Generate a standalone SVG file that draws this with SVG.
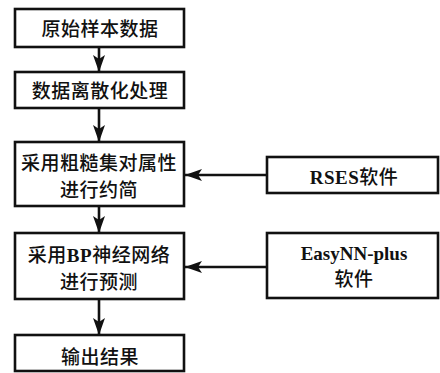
<svg xmlns="http://www.w3.org/2000/svg" width="440" height="373" viewBox="0 0 440 373">
<style>
.box{fill:#fff;stroke:#111;stroke-width:2.6}
.t{font-family:"Noto Sans CJK SC","Noto Sans",sans-serif;font-size:19px;font-weight:500;fill:#111;text-anchor:middle;letter-spacing:0.5px}
.l{font-family:"Liberation Serif","Noto Sans CJK SC",serif;font-weight:bold}
.c{stroke:#111;stroke-width:2.6;fill:none}
</style>
<defs>
<marker id="ah" markerUnits="userSpaceOnUse" markerWidth="18" markerHeight="12" refX="17" refY="6" orient="auto">
<path d="M0,0 L17,6 L0,12 L4,6 Z" fill="#111"/>
</marker>
</defs>
<rect width="440" height="373" fill="#fff"/>
<g id="n1"><rect class="box" x="15" y="9" width="169" height="38"/><text class="t" x="100" y="36">原始样本数据</text></g>
<g id="n2"><rect class="box" x="15" y="72" width="169" height="36"/><text class="t" x="100" y="98">数据离散化处理</text></g>
<g id="n3"><rect class="box" x="15" y="142" width="169" height="64"/><text class="t" x="99" y="170">采用粗糙集对属性</text><text class="t" x="99" y="197">进行约简</text></g>
<g id="n4"><rect class="box" x="15" y="233" width="169" height="66"/><text class="t" x="99" y="262">采用<tspan class="l">BP</tspan>神经网络</text><text class="t" x="99" y="289">进行预测</text></g>
<g id="n5"><rect class="box" x="15" y="335" width="169" height="36"/><text class="t" x="100" y="364">输出结果</text></g>
<g id="n6"><rect class="box" x="267" y="157" width="171" height="36"/><text class="t" x="354" y="184"><tspan class="l">RSES</tspan>软件</text></g>
<g id="n7"><rect class="box" x="267" y="233" width="171" height="65"/><text class="t l" x="354" y="260" style="letter-spacing:0">EasyNN-plus</text><text class="t" x="354" y="286">软件</text></g>
<g id="connectors">
<line class="c" x1="99" y1="47" x2="99" y2="72" marker-end="url(#ah)"/>
<line class="c" x1="99" y1="108" x2="99" y2="142" marker-end="url(#ah)"/>
<line class="c" x1="99" y1="206" x2="99" y2="233" marker-end="url(#ah)"/>
<line class="c" x1="99" y1="299" x2="99" y2="335" marker-end="url(#ah)"/>
<line class="c" x1="267" y1="175" x2="185" y2="175" marker-end="url(#ah)"/>
<line class="c" x1="267" y1="267" x2="185" y2="267" marker-end="url(#ah)"/>
</g>
</svg>
